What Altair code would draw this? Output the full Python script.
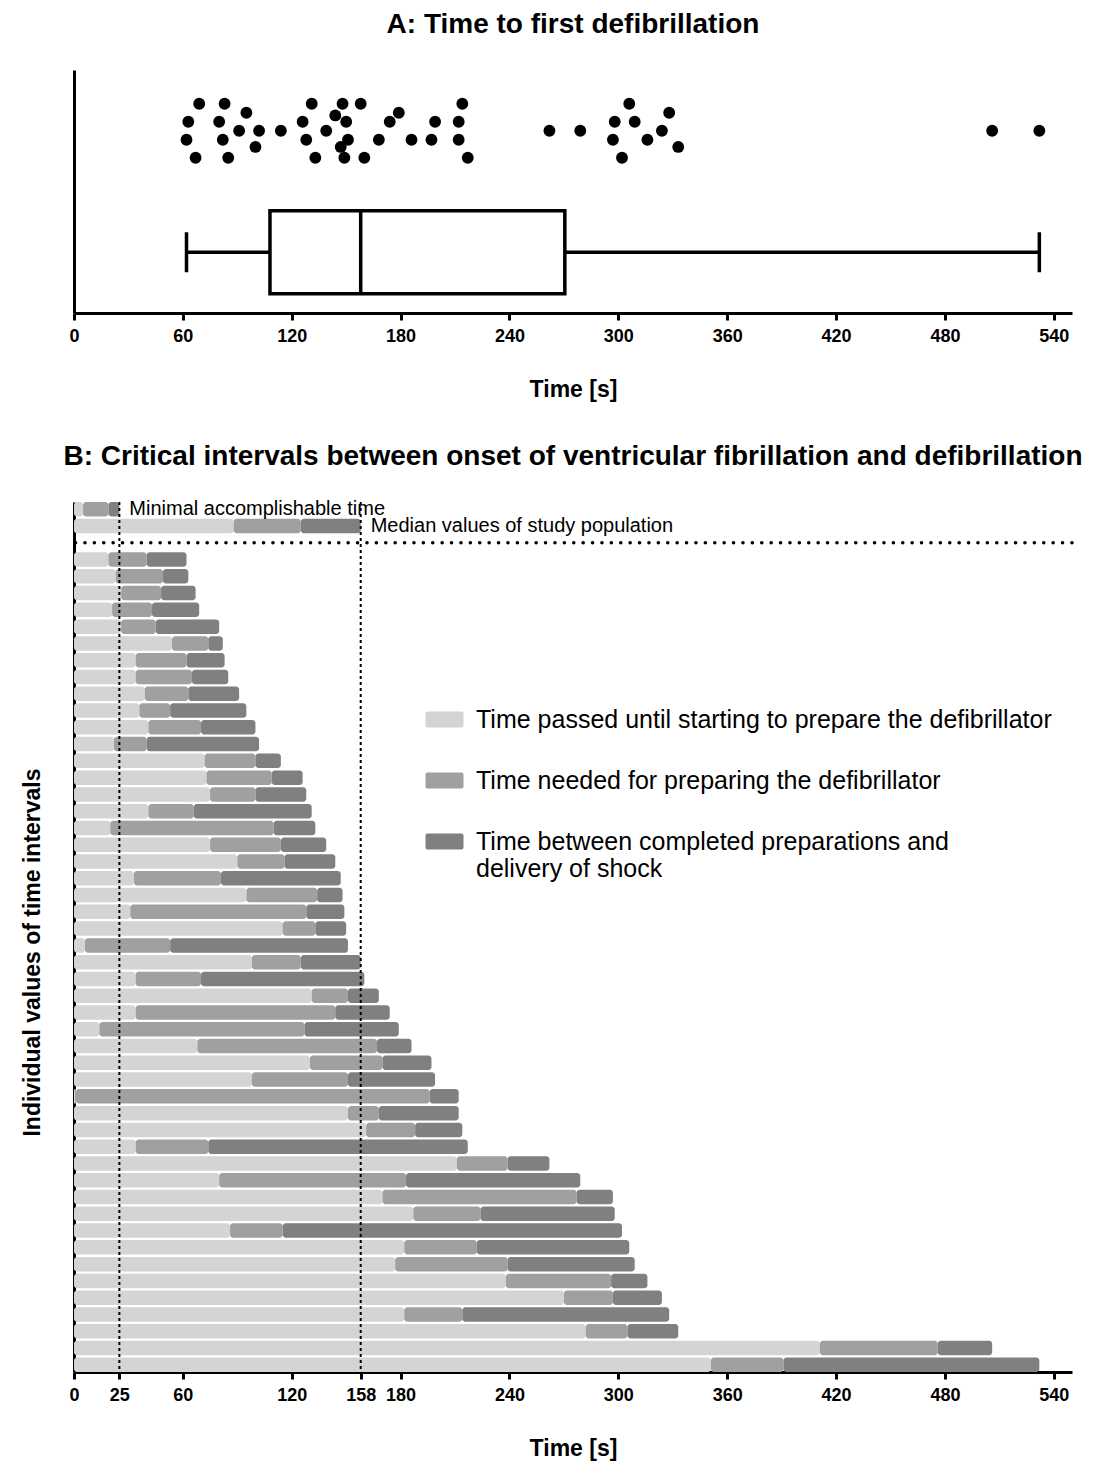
import altair as alt
import pandas as pd

FONT = "Liberation Sans"
NARROW = "Liberation Sans Narrow, Liberation Sans"

# ---------------- Panel B data (seconds), one entry per patient, top to bottom ----
light = [19, 23, 26, 21, 26, 54, 34, 34, 39, 36, 41, 22, 72, 73, 75, 41, 20, 75, 90, 33,
         95, 31, 115, 6, 98, 34, 131, 34, 14, 68, 130, 98, 1, 151, 161, 34, 211, 80, 170, 187,
         86, 182, 177, 238, 270, 182, 282, 411, 351]
prep = [21, 26, 22, 22, 19, 20, 28, 31, 24, 17, 29, 18, 28, 36, 25, 25, 90, 39, 26, 48,
        39, 97, 18, 47, 27, 36, 20, 110, 113, 99, 40, 53, 195, 17, 27, 40, 28, 103, 107, 37,
        29, 40, 62, 58, 27, 32, 23, 65, 40]
wait = [22, 14, 19, 26, 35, 8, 21, 20, 28, 42, 30, 62, 14, 17, 28, 65, 23, 25, 28, 66,
        14, 21, 17, 98, 33, 90, 17, 30, 52, 19, 27, 48, 16, 44, 26, 143, 23, 96, 20, 74,
        187, 84, 70, 20, 27, 114, 28, 30, 141]

summary_ids = ["min", "med"]
summary_names = ["Minimal accomplishable time", "Median values of study population"]
summary_light = [5, 88]
summary_prep = [14, 37]
summary_wait = [6, 33]

seg_names = [
    "Time passed until starting to prepare the defibrillator",
    "Time needed for preparing the defibrillator",
    "Time between completed preparations and delivery of shock",
]
seg_colors = ["#d4d4d4", "#a0a0a0", "#808080"]

# vertical jitter lane of each dot in panel A (sorted by time)
dot_lane = [-1, 1, -3, 3, 1, -1, 3, -3, 0, 2, -1.8, 0, 0, 1, -1, 3, -3, 0, 1.7, -1.8,
            3, -3, 1, -1, 3, -3, -1, 1, 2, -1, -1, 1, 1, -1, 3, -3, 0, 0, -1, 1,
            -3, 3, 1, -1, 0, 2, -1.8, 0, 0]

x_ticks_A = [0, 60, 120, 180, 240, 300, 360, 420, 480, 540]
x_ticks_B = [0, 25, 60, 120, 158, 180, 240, 300, 360, 420, 480, 540]

# ---------------- build tables ----------------
patient_ids = [f"p{i + 1}" for i in range(len(light))]
totals = [a + b + c for a, b, c in zip(light, prep, wait)]

seg_rows = []
def add_rows(ids, L, P, W):
    for rid, a, b, c in zip(ids, L, P, W):
        edges = [0, a, a + b, a + b + c]
        for k in range(3):
            seg_rows.append({"row": rid, "segment": seg_names[k],
                             "start": edges[k], "end": edges[k + 1], "order": k})
add_rows(summary_ids, summary_light, summary_prep, summary_wait)
add_rows(patient_ids, light, prep, wait)
seg_df = pd.DataFrame(seg_rows)

summary_df = pd.DataFrame({
    "row": summary_ids,
    "name": summary_names,
    "total": [a + b + c for a, b, c in zip(summary_light, summary_prep, summary_wait)],
})
gap_df = pd.DataFrame({"row": ["gap"]})
y_domain_B = summary_ids + ["gap"] + patient_ids

s = sorted(totals)
n = len(s)
def prism_q(p):
    pos = (n + 1) * p
    lo = int(pos)
    frac = pos - lo
    if lo >= n:
        return s[-1]
    return s[lo - 1] + frac * (s[lo] - s[lo - 1])

dots_df = pd.DataFrame({"time": s, "lane": dot_lane, "row": "dots"})
box_df = pd.DataFrame([{"row": "box", "min": s[0], "q1": prism_q(0.25), "med": prism_q(0.5),
                        "q3": prism_q(0.75), "max": s[-1]}])

# ---------------- scales / axes ----------------
x_scale = alt.Scale(domain=[0, 550], nice=False, zero=True)

def x_axis(values):
    return alt.Axis(values=values, title="Time [s]", grid=False, domainWidth=3,
                    domainColor="black", tickWidth=3, tickColor="black", tickSize=7,
                    labelFont=NARROW, labelFontSize=18, labelFontWeight="bold",
                    labelColor="black", labelPadding=7, labelFlush=False,
                    titleFont=FONT, titleFontSize=23, titleFontWeight="bold",
                    titleColor="black", titlePadding=33)

yA_scale = alt.Scale(type="band", domain=["dots", "box"], paddingInner=0, paddingOuter=0)
yA_axis = alt.Axis(labels=False, ticks=False, title=None, domainWidth=3,
                   domainColor="black", grid=False)
def yA():
    return alt.Y("row:N", scale=yA_scale, axis=yA_axis)

W = 998
HA = 243
HB = 870

dots = alt.Chart(dots_df).mark_circle(size=140, color="black", opacity=1).encode(
    x=alt.X("time:Q", scale=x_scale, axis=x_axis(x_ticks_A)),
    y=yA(),
    yOffset=alt.YOffset("lane:Q", scale=alt.Scale(domain=[6.75, -6.75])),
)
base_box = alt.Chart(box_df)
whisk_lo = base_box.mark_rule(strokeWidth=3.5, color="black").encode(
    x=alt.X("min:Q", scale=x_scale), x2="q1:Q", y=yA())
whisk_hi = base_box.mark_rule(strokeWidth=3.5, color="black").encode(
    x=alt.X("q3:Q", scale=x_scale), x2="max:Q", y=yA())
box = base_box.mark_bar(fill="white", stroke="black", strokeWidth=3.5, height=83).encode(
    x=alt.X("q1:Q", scale=x_scale), x2="q3:Q", y=yA())
median = base_box.mark_tick(color="black", thickness=3.5, size=83, opacity=1).encode(
    x=alt.X("med:Q", scale=x_scale), y=yA())
cap_lo = base_box.mark_tick(color="black", thickness=3.5, size=40, opacity=1).encode(
    x=alt.X("min:Q", scale=x_scale), y=yA())
cap_hi = base_box.mark_tick(color="black", thickness=3.5, size=40, opacity=1).encode(
    x=alt.X("max:Q", scale=x_scale), y=yA())

panel_A = alt.layer(dots, whisk_lo, whisk_hi, box, median, cap_lo, cap_hi).properties(
    width=W, height=HA,
    title=alt.Title("A: Time to first defibrillation", font=FONT, fontSize=28,
                    fontWeight="bold", color="black", anchor="middle", frame="group",
                    offset=31),
)

# ---------------- Panel B ----------------
yB_scale = alt.Scale(type="band", domain=y_domain_B, paddingInner=0.14, paddingOuter=0)
yB_axis = alt.Axis(labels=False, ticks=False, title="Individual values of time intervals",
                   titleFont=FONT, titleFontSize=23, titleFontWeight="bold",
                   titleColor="black", titlePadding=30, titleY=450, domainWidth=3,
                   domainColor="black", grid=False)

label_expr = ("datum.label == '" + seg_names[2] + "' ? "
              "['Time between completed preparations and', 'delivery of shock'] : datum.label")

swatch = ("M-1.8,-0.84H1.8Q2,-0.84 2,-0.64V0.64Q2,0.84 1.8,0.84H-1.8"
          "Q-2,0.84 -2,0.64V-0.64Q-2,-0.84 -1.8,-0.84Z")

bars = alt.Chart(seg_df).mark_bar(cornerRadius=3, height=14.5).encode(
    x=alt.X("start:Q", scale=x_scale, axis=x_axis(x_ticks_B)),
    x2="end:Q",
    y=alt.Y("row:N", scale=yB_scale, axis=yB_axis),
    color=alt.Color("segment:N", scale=alt.Scale(domain=seg_names, range=seg_colors),
                    legend=alt.Legend(title=None, orient="none", legendX=358, legendY=637,
                                      direction="vertical",
                                      symbolType=swatch, symbolSize=361,
                                      symbolStrokeWidth=0, symbolOpacity=1, labelFont=FONT,
                                      labelFontSize=25, labelColor="black",
                                      labelOffset=19, labelLimit=900, rowPadding=35,
                                      labelExpr=label_expr)),
    order=alt.Order("order:Q"),
)
vrules = alt.Chart(summary_df).mark_rule(strokeDash=[3, 3], strokeWidth=2, color="black").encode(
    x=alt.X("total:Q", scale=x_scale))
hrule = alt.Chart(gap_df).mark_rule(strokeDash=[0.1, 9.3], strokeCap="round", strokeWidth=3.5,
                                    color="black").encode(
    y=alt.Y("row:N", scale=yB_scale))
labels = alt.Chart(summary_df).mark_text(align="left", baseline="middle", dx=10, font=FONT,
                                         fontSize=20, color="black").encode(
    x=alt.X("total:Q", scale=x_scale), y=alt.Y("row:N", scale=yB_scale), text="name:N")

panel_B = alt.layer(bars, vrules, hrule, labels).properties(
    width=W, height=HB,
    title=alt.Title("B: Critical intervals between onset of ventricular fibrillation and defibrillation",
                    font=FONT, fontSize=28, fontWeight="bold", color="black",
                    anchor="middle", frame="group", offset=28),
)

chart = alt.vconcat(panel_A, panel_B, spacing=42).properties(
    padding={"left": 13, "top": 3, "right": 5, "bottom": 5},
    background="white",
).configure_view(strokeWidth=0, stroke="transparent")

chart.save("out.html", embed_options={"renderer": "svg", "actions": False})
